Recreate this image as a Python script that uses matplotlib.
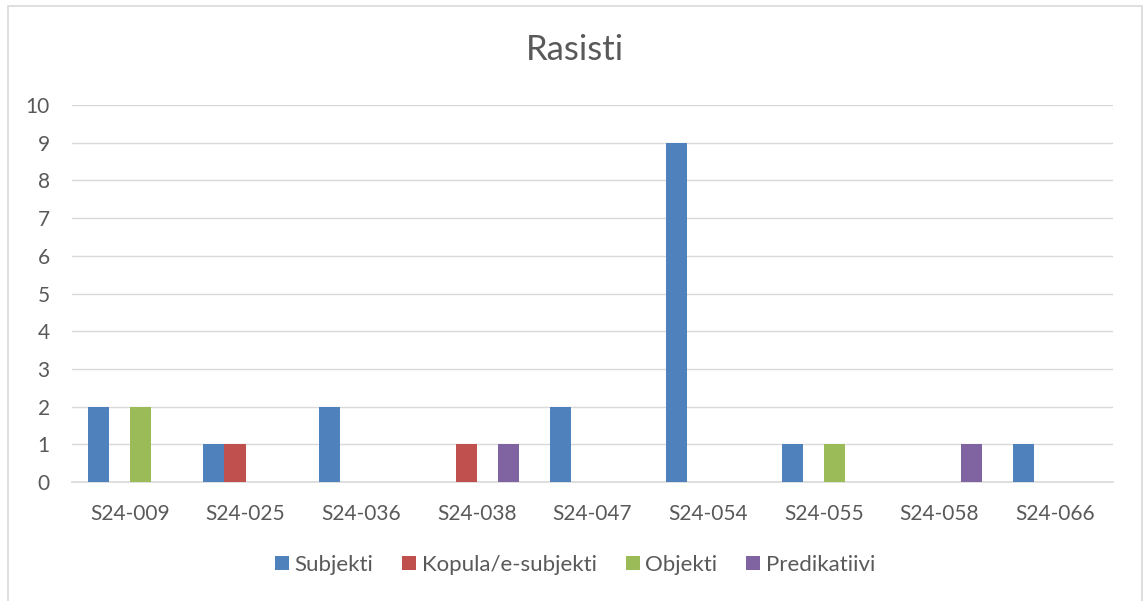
import matplotlib.pyplot as plt
import numpy as np
from matplotlib.patches import Rectangle

plt.rcParams["font.family"] = ["Lato", "DejaVu Sans"]

CATEGORIES = ["S24-009", "S24-025", "S24-036", "S24-038", "S24-047",
              "S24-054", "S24-055", "S24-058", "S24-066"]
SERIES = ["Subjekti", "Kopula/e-subjekti", "Objekti", "Predikatiivi"]
SUBJEKTI = [2, 1, 2, 0, 2, 9, 1, 0, 1]
KOPULA = [0, 1, 0, 1, 0, 0, 0, 0, 0]
OBJEKTI = [2, 0, 0, 0, 0, 0, 1, 0, 0]
PREDIKATIIVI = [0, 0, 0, 1, 0, 0, 0, 1, 0]
Y_TICKS = list(range(0, 11))

COLORS = ["#4F81BD", "#C0504D", "#9BBB59", "#8064A2"]
TEXT = "#595959"
GRID = "#D9D9D9"

fig = plt.figure(figsize=(11.43, 6.01), dpi=100)
ax = fig.add_axes([72 / 1143, 1 - 482 / 601, (1113 - 72) / 1143, (482 - 105) / 601])

# outer chart border
fig.patches.append(Rectangle((8 / 1143, -0.05), (1142 - 8) / 1143, 1.05 - 6 / 601,
                             transform=fig.transFigure, fill=False,
                             edgecolor="#D9D9D9", linewidth=1.2))

x = np.arange(len(CATEGORIES))
width = 0.182
values = [SUBJEKTI, KOPULA, OBJEKTI, PREDIKATIIVI]
for i, (name, vals, color) in enumerate(zip(SERIES, values, COLORS)):
    ax.bar(x + (i - 1.5) * width, vals, width=width, color=color, label=name, zorder=3)

ax.set_xlim(-0.5, len(CATEGORIES) - 0.5)
ax.set_ylim(0, 10)
ax.set_yticks(Y_TICKS)
ax.set_xticks(x)
ax.set_xticklabels(CATEGORIES)
ax.tick_params(axis="both", length=0, labelsize=15, colors=TEXT)
ax.tick_params(axis="y", pad=16)
ax.tick_params(axis="x", pad=16)
ax.grid(axis="y", color=GRID, linewidth=1, zorder=0)
for side in ["top", "right", "left"]:
    ax.spines[side].set_visible(False)
ax.spines["bottom"].set_color(GRID)
ax.spines["bottom"].set_linewidth(1.2)

fig.text(0.503, 1 - 50 / 601, "Rasisti", ha="center", va="center",
         fontsize=25, color=TEXT)

fig.legend(loc="center", bbox_to_anchor=(0.503, 1 - 565 / 601), ncol=4,
           frameon=False, fontsize=16, labelcolor=TEXT, handlelength=0.63,
           handleheight=0.63, handletextpad=0.25, columnspacing=1.3)

fig.savefig("out.png", dpi=100)
